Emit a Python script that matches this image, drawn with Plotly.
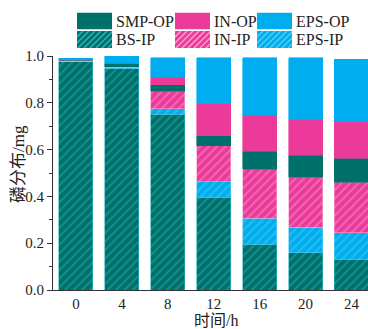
import base64
import plotly.graph_objects as go

times = ["0", "4", "8", "12", "16", "20", "24"]
bs_ip = [0.975, 0.946, 0.751, 0.396, 0.196, 0.159, 0.132]
eps_ip = [0.003, 0.006, 0.024, 0.066, 0.110, 0.109, 0.113]
in_ip = [0.003, 0.003, 0.074, 0.154, 0.209, 0.213, 0.215]
smp_op = [0.002, 0.012, 0.029, 0.043, 0.078, 0.095, 0.102]
in_op = [0.003, 0.005, 0.032, 0.138, 0.154, 0.154, 0.156]
eps_op = [0.005, 0.026, 0.082, 0.196, 0.246, 0.263, 0.268]

TEAL = "#00706A"
TEAL_H = "#2CB6BE"
PINK = "#EC3A9A"
PINK_H = "#F7A3CF"
BLUE = "#00AEEF"
BLUE_H = "#5CCBF4"

FONT = "Liberation Serif, Times New Roman, Noto Sans CJK SC"

series = [
    ("BS-IP", bs_ip, TEAL, TEAL_H, True),
    ("EPS-IP", eps_ip, BLUE, BLUE_H, True),
    ("IN-IP", in_ip, PINK, PINK_H, True),
    ("SMP-OP", smp_op, TEAL, None, False),
    ("IN-OP", in_op, PINK, None, False),
    ("EPS-OP", eps_op, BLUE, None, False),
]

fig = go.Figure()
for name, vals, col, hcol, hatched in series:
    marker = dict(color=col, line=dict(color=hcol if hatched else col, width=0.6))
    if hatched:
        marker["pattern"] = dict(shape="/", bgcolor=col, fgcolor=hcol, size=6, solidity=0.3)
    fig.add_trace(go.Bar(x=times, y=vals, name=name, marker=marker, showlegend=False))

W, H = 368, 329
ML, MR, MT, MB = 53, 0, 56, 39
PW, PH = W - ML - MR, H - MT - MB


def px2paper(x, y):
    return (x - ML) / PW, (H - MB - y) / PH


def swatch(col, hcol, hatched):
    w, h = 35, 17
    svg = f'<svg xmlns="http://www.w3.org/2000/svg" width="{w}" height="{h}">'
    svg += f'<rect x="0" y="0" width="{w}" height="{h}" fill="{col}"/>'
    if hatched:
        for k in range(-h, w + h, 6):
            svg += f'<line x1="{k}" y1="{h}" x2="{k + h}" y2="0" stroke="{hcol}" stroke-width="1.4"/>'
    svg += "</svg>"
    return "data:image/svg+xml;base64," + base64.b64encode(svg.encode()).decode()


legend_items = [
    ("SMP-OP", TEAL, None, False, 77, 12.5),
    ("BS-IP", TEAL, TEAL_H, True, 77, 31),
    ("IN-OP", PINK, None, False, 175, 12.5),
    ("IN-IP", PINK, PINK_H, True, 175, 31),
    ("EPS-OP", BLUE, None, False, 257, 12.5),
    ("EPS-IP", BLUE, BLUE_H, True, 257, 31),
]
images = []
annotations = []
for name, col, hcol, hatched, lx, ly in legend_items:
    px, py = px2paper(lx, ly)
    images.append(dict(source=swatch(col, hcol, hatched), xref="paper", yref="paper",
                       x=px, y=py, sizex=35 / PW, sizey=17 / PH,
                       xanchor="left", yanchor="top", sizing="stretch", layer="above"))
    tx, ty = px2paper(lx + 37, ly + 8.5)
    annotations.append(dict(text=name, xref="paper", yref="paper", x=tx, y=ty,
                            xanchor="left", yanchor="middle", showarrow=False,
                            font=dict(family=FONT, size=16, color="#222")))

# axis titles
tx, ty = px2paper(216, 320.5)
annotations.append(dict(text="时间/h", xref="paper", yref="paper", x=tx, y=ty,
                        xanchor="center", yanchor="middle", showarrow=False,
                        font=dict(family=FONT, size=16, color="#222")))
tx, ty = px2paper(18, 164)
annotations.append(dict(text="磷分布/mg", xref="paper", yref="paper", x=tx, y=ty,
                        xanchor="center", yanchor="middle", showarrow=False, textangle=-90,
                        font=dict(family=FONT, size=17, color="#222")))

fig.update_layout(
    width=W, height=H,
    margin=dict(l=ML, r=MR, t=MT, b=MB, autoexpand=False),
    barmode="stack", bargap=0.26,
    plot_bgcolor="white", paper_bgcolor="white",
    font=dict(family=FONT, size=15, color="#222"),
    images=images, annotations=annotations,
)
fig.update_xaxes(
    type="category", range=[-0.5, 6.36], showline=True, linecolor="#333", linewidth=1,
    ticks="", showgrid=False, tickfont=dict(size=15), automargin=False,
)
fig.update_yaxes(
    range=[0, 1.0], showline=True, linecolor="#333", linewidth=1,
    ticks="outside", ticklen=5, tickcolor="#333", dtick=0.2, tickformat=".1f",
    minor=dict(ticks="outside", ticklen=3, dtick=0.1, tickcolor="#333"),
    showgrid=False, zeroline=False, tickfont=dict(size=15), automargin=False,
)

fig.write_html("out.html", config={"displayModeBar": False},
               post_script="document.body.style.margin='0';document.body.style.overflow='hidden';")
